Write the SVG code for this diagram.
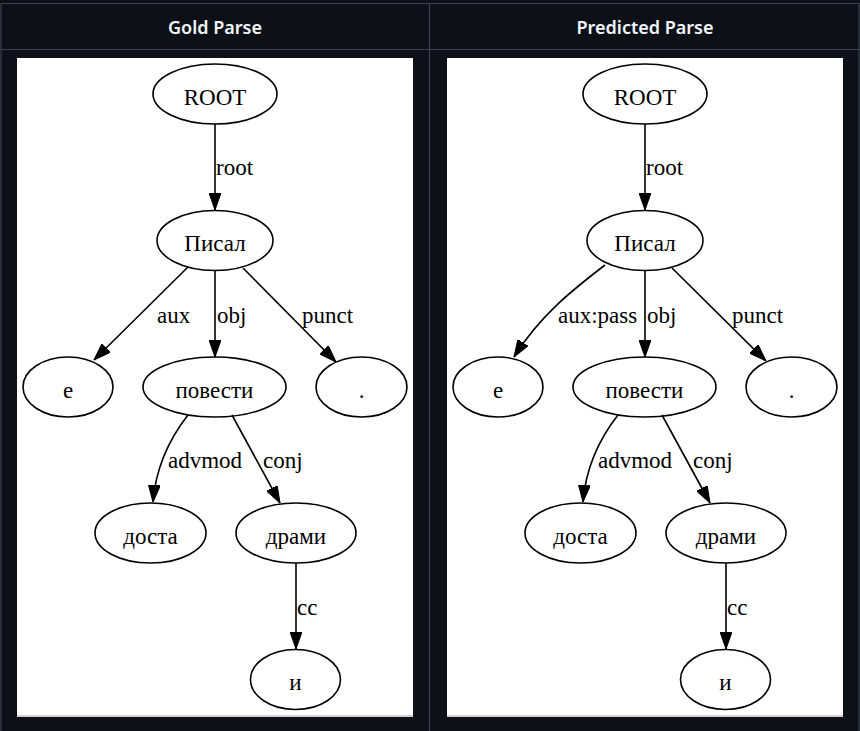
<svg xmlns="http://www.w3.org/2000/svg" width="860" height="731" viewBox="0 0 860 731">
<style>
.hdr{font-family:"Noto Sans","Open Sans","Liberation Sans",sans-serif;font-weight:600;font-size:18px;fill:#f0f6fc;text-anchor:middle}
.node ellipse{fill:none;stroke:#000;stroke-width:1.6}
.node text{font-family:"Liberation Serif","Times New Roman",serif;font-size:23px;fill:#000;text-anchor:middle}
.edges path{fill:none;stroke:#000;stroke-width:1.6}
.lbl{font-family:"Liberation Serif","Times New Roman",serif;font-size:23px;fill:#000}
.grid{stroke:#3d444d;stroke-width:1.2;fill:none}
</style>
<defs>
<marker id="arr" viewBox="0 0 17 12" refX="17" refY="6" markerWidth="17" markerHeight="12" markerUnits="userSpaceOnUse" orient="auto">
<path d="M0,0 L17,6 L0,12 Z" fill="#000" stroke="#000" stroke-width="1"/>
</marker>
</defs>
<rect x="0" y="0" width="860" height="731" fill="#0d1117"/>
<g id="table">
<path class="grid" d="M1,3.5 H859 M1,3.5 V731 M859,3.5 V731 M1,49.5 H859 M429.5,3.5 V731"/>
<text class="hdr" x="215" y="34">Gold Parse</text>
<text class="hdr" x="645" y="34">Predicted Parse</text>
<rect x="17" y="58" width="396" height="657" fill="#fff"/>
<rect x="17" y="715" width="396" height="2" fill="#d0d0d0"/>
<rect x="447" y="58" width="396" height="657" fill="#fff"/>
<rect x="447" y="715" width="396" height="2" fill="#d0d0d0"/>
</g>
<!-- Gold -->
<g id="gold-edges" class="edges">
<path d="M215,124 L215,210" marker-end="url(#arr)"/>
<path d="M188,267 L94,360" marker-end="url(#arr)"/>
<path d="M215,271 L215,357" marker-end="url(#arr)"/>
<path d="M243,268 L336,362" marker-end="url(#arr)"/>
<path d="M188,415 C170,438 156,465 153,502" marker-end="url(#arr)"/>
<path d="M232,415 L280,503" marker-end="url(#arr)"/>
<path d="M296,563 L296,649" marker-end="url(#arr)"/>
<text class="lbl" x="216" y="175">root</text>
<text class="lbl" x="157" y="323">aux</text>
<text class="lbl" x="217" y="323">obj</text>
<text class="lbl" x="302" y="323">punct</text>
<text class="lbl" x="168" y="468">advmod</text>
<text class="lbl" x="263" y="468">conj</text>
<text class="lbl" x="297" y="615">cc</text>
</g>
<g id="gold-ROOT" class="node"><ellipse cx="215" cy="94" rx="62" ry="30"/><text x="215" y="104.5">ROOT</text></g>
<g id="gold-Pisal" class="node"><ellipse cx="215" cy="240.5" rx="58" ry="30"/><text x="215" y="251">Писал</text></g>
<g id="gold-e" class="node"><ellipse cx="68" cy="387" rx="45" ry="30"/><text x="68" y="397.5">е</text></g>
<g id="gold-povesti" class="node"><ellipse cx="214.5" cy="387" rx="71.5" ry="30"/><text x="214.5" y="397.5">повести</text></g>
<g id="gold-dot" class="node"><ellipse cx="361.5" cy="387" rx="45.5" ry="30"/><text x="361.5" y="397.5">.</text></g>
<g id="gold-dosta" class="node"><ellipse cx="150.5" cy="533" rx="55.5" ry="30"/><text x="150.5" y="543.5">доста</text></g>
<g id="gold-drami" class="node"><ellipse cx="296" cy="533" rx="60" ry="30"/><text x="296" y="543.5">драми</text></g>
<g id="gold-i" class="node"><ellipse cx="295.5" cy="679.5" rx="45" ry="30"/><text x="295.5" y="690">и</text></g>
<!-- Predicted -->
<g id="pred-edges" class="edges">
<path d="M645,124 L645,210" marker-end="url(#arr)"/>
<path d="M605,265 C575,288 540,315 514,357" marker-end="url(#arr)"/>
<path d="M645,271 L645,357" marker-end="url(#arr)"/>
<path d="M672,268 L766,361" marker-end="url(#arr)"/>
<path d="M618,415 C600,438 586,465 583,502" marker-end="url(#arr)"/>
<path d="M662,415 L710,503" marker-end="url(#arr)"/>
<path d="M726,563 L726,649" marker-end="url(#arr)"/>
<text class="lbl" x="646" y="175">root</text>
<text class="lbl" x="558" y="323">aux:pass</text>
<text class="lbl" x="647" y="323">obj</text>
<text class="lbl" x="732" y="323">punct</text>
<text class="lbl" x="598" y="468">advmod</text>
<text class="lbl" x="693" y="468">conj</text>
<text class="lbl" x="727" y="615">cc</text>
</g>
<g id="pred-ROOT" class="node"><ellipse cx="645" cy="94" rx="62" ry="30"/><text x="645" y="104.5">ROOT</text></g>
<g id="pred-Pisal" class="node"><ellipse cx="645" cy="240.5" rx="58" ry="30"/><text x="645" y="251">Писал</text></g>
<g id="pred-e" class="node"><ellipse cx="498" cy="387" rx="45" ry="30"/><text x="498" y="397.5">е</text></g>
<g id="pred-povesti" class="node"><ellipse cx="644.5" cy="387" rx="71.5" ry="30"/><text x="644.5" y="397.5">повести</text></g>
<g id="pred-dot" class="node"><ellipse cx="791.5" cy="387" rx="45.5" ry="30"/><text x="791.5" y="397.5">.</text></g>
<g id="pred-dosta" class="node"><ellipse cx="580.5" cy="533" rx="55.5" ry="30"/><text x="580.5" y="543.5">доста</text></g>
<g id="pred-drami" class="node"><ellipse cx="726" cy="533" rx="60" ry="30"/><text x="726" y="543.5">драми</text></g>
<g id="pred-i" class="node"><ellipse cx="725.5" cy="679.5" rx="45" ry="30"/><text x="725.5" y="690">и</text></g>
</svg>
